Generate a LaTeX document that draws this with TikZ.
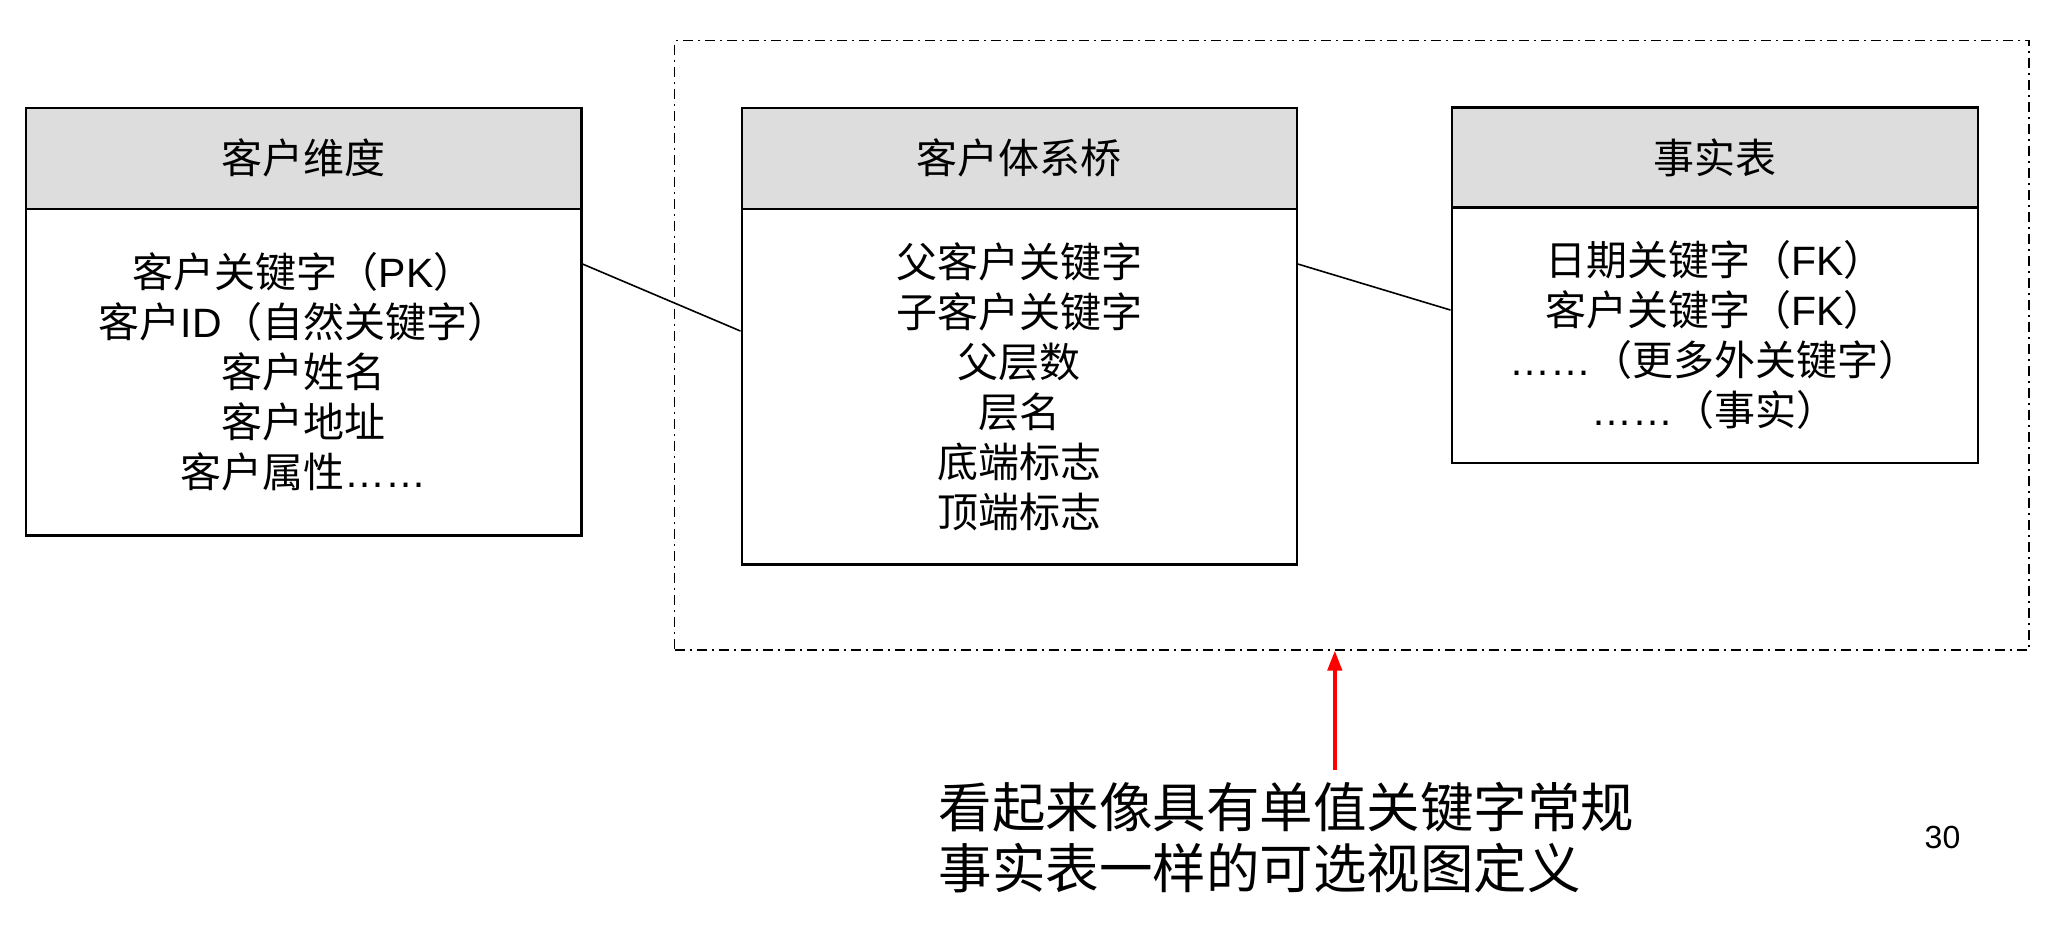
\documentclass[tikz,border=0pt]{standalone}
\usepackage{fontspec}
\setmainfont{Noto Sans CJK SC}
\newfontfamily\lat{Liberation Sans}
\usetikzlibrary{arrows.meta}
\definecolor{hdrgray}{HTML}{DDDDDD}
\definecolor{arrred}{HTML}{FF0000}
\newcommand\tabfont{\fontsize{20.5pt}{25pt}\selectfont}
\begin{document}
\begin{tikzpicture}[x=1pt,y=-1pt,
  hdrbox/.style={draw, line width=1.1pt, fill=hdrgray, inner sep=0pt, font=\tabfont},
  bodybox/.style={draw, line width=1.1pt, fill=white, align=center, inner sep=0pt, font=\tabfont},
  framebox/.style={draw, line width=0.8pt, dash pattern=on 5pt off 2.5pt on 1pt off 2.5pt, inner sep=0pt},
  link/.style={draw, line width=0.8pt},
  redarrow/.style={draw=arrred, line width=2pt, -{Triangle[length=10pt,width=7pt]}}
]
\useasboundingbox (0,0) rectangle (1029,462.5);
\fill[white] (0,0) rectangle (1029,462.5);

% dash-dot frame
\node[framebox, minimum width=677.25pt, minimum height=304.5pt] (frame) at (675.9,172.6) {};

% customer dimension
\node[hdrbox, minimum width=277.6pt, minimum height=50.55pt] (h1) at (151.9,79.1) {客户维度};
\node[bodybox, minimum width=277.6pt, minimum height=163.4pt] (b1) at (151.9,186.05)
  {客户关键字（{\lat PK}）\\客户{\lat ID}（自然关键字）\\客户姓名\\客户地址\\客户属性{\lat ……}};

% bridge
\node[hdrbox, minimum width=277.6pt, minimum height=50.55pt] (h2) at (509.6,79.1) {客户体系桥};
\node[bodybox, minimum width=277.6pt, minimum height=177.85pt] (b2) at (509.6,193.3)
  {父客户关键字\\子客户关键字\\父层数\\层名\\底端标志\\顶端标志};

% fact table
\node[hdrbox, minimum width=263.2pt, minimum height=49.9pt] (h3) at (857.4,78.75) {事实表};
\node[bodybox, minimum width=263.2pt, minimum height=127.95pt] (b3) at (857.4,167.7)
  {日期关键字（{\lat FK}）\\客户关键字（{\lat FK}）\\{\lat ……}（更多外关键字）\\{\lat ……}（事实）};

% connectors
\draw[link] ([yshift=-28.2pt]b1.north east) -- ([yshift=-61.7pt]b2.north west);
\draw[link] ([yshift=-28.2pt]b2.north east) -- ([yshift=-51.85pt]b3.north west);

% note and arrow
\node[anchor=west, align=left, inner sep=0pt, font=\fontsize{26.75pt}{30.3pt}\selectfont] (note) at (469.2,418.65)
  {看起来像具有单值关键字常规\\事实表一样的可选视图定义};
\coordinate (astart) at (667.4,385.2);
\draw[redarrow] (astart) -- ([xshift=-8.5pt]frame.south);

\node[inner sep=0pt, font=\lat\fontsize{16pt}{18pt}\selectfont] (pnum) at (971.25,418.7) {30};
\end{tikzpicture}
\end{document}
